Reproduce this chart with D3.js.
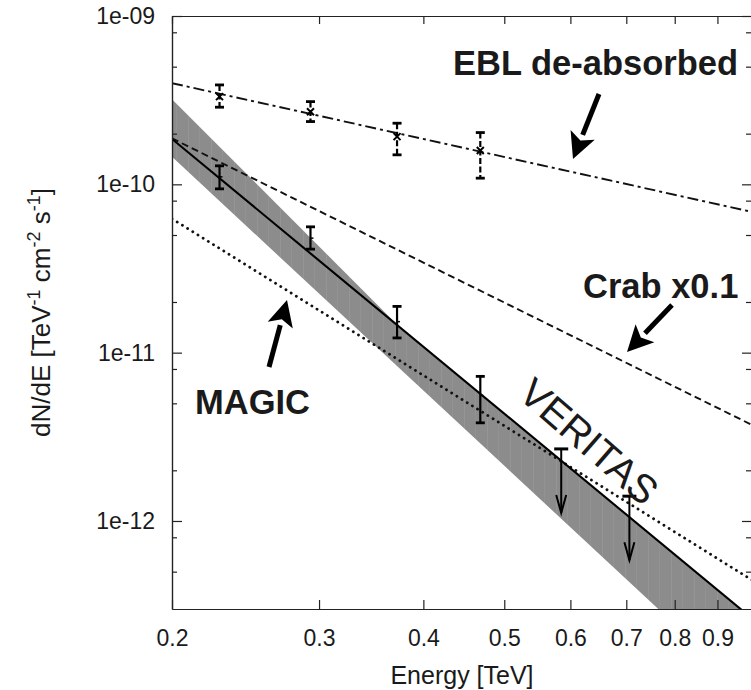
<!DOCTYPE html>
<html>
<head>
<meta charset="utf-8">
<script src="https://cdn.jsdelivr.net/npm/d3@7"></script>
<style>
  body { margin: 0; background: #fff; }
  text { font-family: "Liberation Sans", Arial, Helvetica, sans-serif; fill: #1a1a1a; }
</style>
</head>
<body>
<svg id="chart" width="751" height="690"></svg>
<script>
// ---- data (energy in TeV, flux in TeV^-1 cm^-2 s^-1) ----
const magicEnergy   = [0.228, 0.293, 0.372, 0.468];
const magicFlux     = [1.108e-10, 4.79e-11, 1.528e-11, 5.56e-12];
const magicFluxHigh = [1.288e-10, 5.59e-11, 1.883e-11, 7.23e-12];
const magicFluxLow  = [9.40e-11, 4.12e-11, 1.223e-11, 3.83e-12];

const eblFlux     = [3.32e-10, 2.70e-10, 1.921e-10, 1.588e-10];
const eblFluxHigh = [3.895e-10, 3.10e-10, 2.307e-10, 2.03e-10];
const eblFluxLow  = [2.872e-10, 2.36e-10, 1.497e-10, 1.088e-10];

const veritasEnergy     = [0.585, 0.706];
const veritasUpperLimit = [2.68e-12, 1.404e-12];

// power-law curves, given as [energy, flux] nodes (straight in log-log)
const magicFit       = [[0.2, 1.86e-10], [1.0, 2.53e-13]];
const magicBandUpper = [[0.2, 3.2e-10], [0.375, 1.413e-11], [1.0, 2.53e-13]];
const magicBandLower = [[0.2, 1.456e-10], [1.0, 8.7e-14]];
const crabTenth      = [[0.2, 1.875e-10], [1.0, 3.63e-12]];
const eblDeabsorbed  = [[0.2, 3.99e-10], [1.0, 6.78e-11]];
const magicDotted    = [[0.2, 6.24e-11], [1.0, 4.32e-13]];

const xTickValues = [0.2, 0.3, 0.4, 0.5, 0.6, 0.7, 0.8, 0.9];
const yTickValues = [1e-9, 1e-10, 1e-11, 1e-12];
const yMinorMultipliers = [2, 5, 8];

(function draw() {
  const svg = d3.select("#chart");
  const pLeft = 172, pRight = 752, pTop = 16, pBottom = 609;

  const x = d3.scaleLog().domain([0.2, 0.99]).range([pLeft, pRight]);
  const y = d3.scaleLog().domain([3e-13, 1e-9]).range([pBottom, pTop]);

  const yMinor = [];
  for (let k = -13; k <= -10; k++) {
    yMinorMultipliers.forEach(m => {
      const v = m * Math.pow(10, k);
      if (v >= 3e-13 && v <= 1e-9) yMinor.push(v);
    });
  }
  const fmtExp = d => {
    const e = Math.round(Math.log10(d));
    return "1e" + (e < 0 ? "-" : "+") + String(Math.abs(e)).padStart(2, "0");
  };

  const defs = svg.append("defs");
  defs.append("clipPath").attr("id", "plotClip")
    .append("rect").attr("x", pLeft).attr("y", pTop)
    .attr("width", pRight - pLeft).attr("height", pBottom - pTop);

  // band fill: flat grey with faint vertical streaks
  const pat = defs.append("pattern").attr("id", "bandFill")
    .attr("patternUnits", "userSpaceOnUse").attr("width", 23).attr("height", 10);
  pat.append("rect").attr("width", 23).attr("height", 10).attr("fill", "#8c8c8c");
  pat.append("rect").attr("x", 4).attr("width", 1).attr("height", 10).attr("fill", "#959595");
  pat.append("rect").attr("x", 15).attr("width", 1).attr("height", 10).attr("fill", "#929292");

  const plot = svg.append("g").attr("clip-path", "url(#plotClip)");
  const line = d3.line().x(d => x(d[0])).y(d => y(d[1]));

  // uncertainty band of the MAGIC fit
  const bandPoly = magicBandUpper.concat(magicBandLower.slice().reverse());
  plot.append("path")
    .attr("d", line(bandPoly) + "Z")
    .attr("fill", "url(#bandFill)")
    .attr("stroke", "none");

  // curves
  plot.append("path").attr("d", line(magicDotted))
    .attr("fill", "none").attr("stroke", "#111").attr("stroke-width", 2.8)
    .attr("stroke-dasharray", "0.1,6").attr("stroke-linecap", "round");
  plot.append("path").attr("d", line(crabTenth))
    .attr("fill", "none").attr("stroke", "#111").attr("stroke-width", 1.9)
    .attr("stroke-dasharray", "7,4");
  plot.append("path").attr("d", line(eblDeabsorbed))
    .attr("fill", "none").attr("stroke", "#111").attr("stroke-width", 1.9)
    .attr("stroke-dasharray", "11,4,3,4");
  plot.append("path").attr("d", line(magicFit))
    .attr("fill", "none").attr("stroke", "#000").attr("stroke-width", 2.1);

  // error bars
  function errorBars(energy, lo, hi, mid, dashed) {
    const g = plot.append("g").attr("stroke", "#000").attr("fill", "none");
    energy.forEach((e, i) => {
      const cx = x(e), cap = 4.5;
      g.append("line").attr("x1", cx).attr("x2", cx)
        .attr("y1", y(hi[i])).attr("y2", y(lo[i])).attr("stroke-width", 2.2)
        .attr("stroke-dasharray", dashed ? "6,2.5" : null);
      [hi[i], lo[i]].forEach(v => g.append("line")
        .attr("x1", cx - cap).attr("x2", cx + cap)
        .attr("y1", y(v)).attr("y2", y(v)).attr("stroke-width", 2.8));
      if (dashed) {
        const s = 3.5, cy = y(mid[i]);
        g.append("path").attr("d", `M${cx - s},${cy - s}L${cx + s},${cy + s}M${cx - s},${cy + s}L${cx + s},${cy - s}`)
          .attr("stroke-width", 2);
      } else {
        g.append("line").attr("x1", cx).attr("x2", cx + 3)
          .attr("y1", y(mid[i])).attr("y2", y(mid[i])).attr("stroke-width", 1.5);
      }
    });
  }
  errorBars(magicEnergy, magicFluxLow, magicFluxHigh, magicFlux, false);
  errorBars(magicEnergy, eblFluxLow, eblFluxHigh, eblFlux, true);

  // VERITAS upper limits
  const ul = plot.append("g").attr("stroke", "#000").attr("fill", "none");
  veritasEnergy.forEach((e, i) => {
    const cx = x(e), cy = y(veritasUpperLimit[i]), len = 64;
    ul.append("line").attr("x1", cx - 7).attr("x2", cx + 7).attr("y1", cy).attr("y2", cy).attr("stroke-width", 3);
    ul.append("line").attr("x1", cx).attr("x2", cx).attr("y1", cy).attr("y2", cy + len).attr("stroke-width", 2);
    ul.append("path").attr("d", `M${cx - 5},${cy + len - 18}L${cx},${cy + len}L${cx + 5},${cy + len - 18}`)
      .attr("stroke-width", 2);
  });

  // ---- axes ----
  const axisColor = "#222";
  function styleAxis(g) {
    g.selectAll("path.domain").attr("stroke", axisColor).attr("stroke-width", 1.2);
    g.selectAll(".tick line").attr("stroke", axisColor).attr("stroke-width", 1.2);
    g.selectAll(".tick text").attr("font-size", 23).attr("fill", "#1a1a1a")
      .attr("font-family", "\"Liberation Sans\", Arial, sans-serif");
  }
  svg.append("g").attr("transform", `translate(0,${pBottom})`)
    .call(d3.axisBottom(x).tickValues(xTickValues).tickFormat(d3.format("")).tickSize(-9).tickSizeOuter(0).tickPadding(21))
    .call(styleAxis);
  svg.append("g").attr("transform", `translate(0,${pTop})`)
    .call(d3.axisTop(x).tickValues(xTickValues).tickFormat("").tickSize(-8).tickSizeOuter(0))
    .call(styleAxis);
  svg.append("g").attr("transform", `translate(${pLeft},0)`)
    .call(d3.axisLeft(y).tickValues(yTickValues).tickFormat(fmtExp).tickSize(-10).tickSizeOuter(0).tickPadding(17))
    .call(styleAxis);
  svg.append("g").attr("transform", `translate(${pLeft},0)`)
    .call(d3.axisLeft(y).tickValues(yMinor).tickFormat("").tickSize(-5).tickSizeOuter(0))
    .call(styleAxis);
  svg.append("g").attr("transform", `translate(${pRight},0)`)
    .call(d3.axisRight(y).tickValues(yTickValues).tickFormat("").tickSize(-10).tickSizeOuter(0))
    .call(styleAxis);
  svg.append("g").attr("transform", `translate(${pRight},0)`)
    .call(d3.axisRight(y).tickValues(yMinor).tickFormat("").tickSize(-6).tickSizeOuter(0))
    .call(styleAxis);

  // axis titles
  svg.append("text").attr("x", 462).attr("y", 684)
    .attr("text-anchor", "middle").attr("font-size", 25).text("Energy [TeV]");

  const yTitle = svg.append("text")
    .attr("transform", `translate(50,${(pTop + pBottom) / 2}) rotate(-90)`)
    .attr("text-anchor", "middle").attr("font-size", 26);
  yTitle.append("tspan").text("dN/dE [TeV");
  yTitle.append("tspan").attr("dy", -10).attr("font-size", 18).text("-1");
  yTitle.append("tspan").attr("dy", 10).text(" cm");
  yTitle.append("tspan").attr("dy", -10).attr("font-size", 18).text("-2");
  yTitle.append("tspan").attr("dy", 10).text(" s");
  yTitle.append("tspan").attr("dy", -10).attr("font-size", 18).text("-1");
  yTitle.append("tspan").attr("dy", 10).text("]");

  // ---- annotations ----
  function label(txt, xx, yy) {
    svg.append("text").attr("x", xx).attr("y", yy).attr("font-size", 34.5)
      .attr("font-weight", "bold").attr("fill", "#111").text(txt);
  }
  label("EBL de-absorbed", 453, 75);
  label("Crab x0.1", 583, 298);
  label("MAGIC", 195, 414);

  svg.append("text")
    .attr("transform", "translate(580,452) rotate(41)")
    .attr("text-anchor", "middle").attr("font-size", 40).attr("fill", "#000")
    .text("VERITAS");

  function bigArrow(x1, y1, x2, y2) {
    const ang = Math.atan2(y2 - y1, x2 - x1);
    const hl = 26, hw = 13;
    const bx = x2 - hl * Math.cos(ang), by = y2 - hl * Math.sin(ang);
    svg.append("line").attr("x1", x1).attr("y1", y1).attr("x2", bx).attr("y2", by)
      .attr("stroke", "#000").attr("stroke-width", 5);
    const px = -Math.sin(ang) * hw, py = Math.cos(ang) * hw;
    const nx = x2 - (hl - 6) * Math.cos(ang), ny = y2 - (hl - 6) * Math.sin(ang);
    svg.append("path")
      .attr("d", `M${x2},${y2}L${bx + px},${by + py}L${nx},${ny}L${bx - px},${by - py}Z`)
      .attr("fill", "#000");
  }
  bigArrow(599, 94, 573, 159);
  bigArrow(672, 305, 627, 352);
  bigArrow(269, 367, 287, 300);
})();
</script>
</body>
</html>
